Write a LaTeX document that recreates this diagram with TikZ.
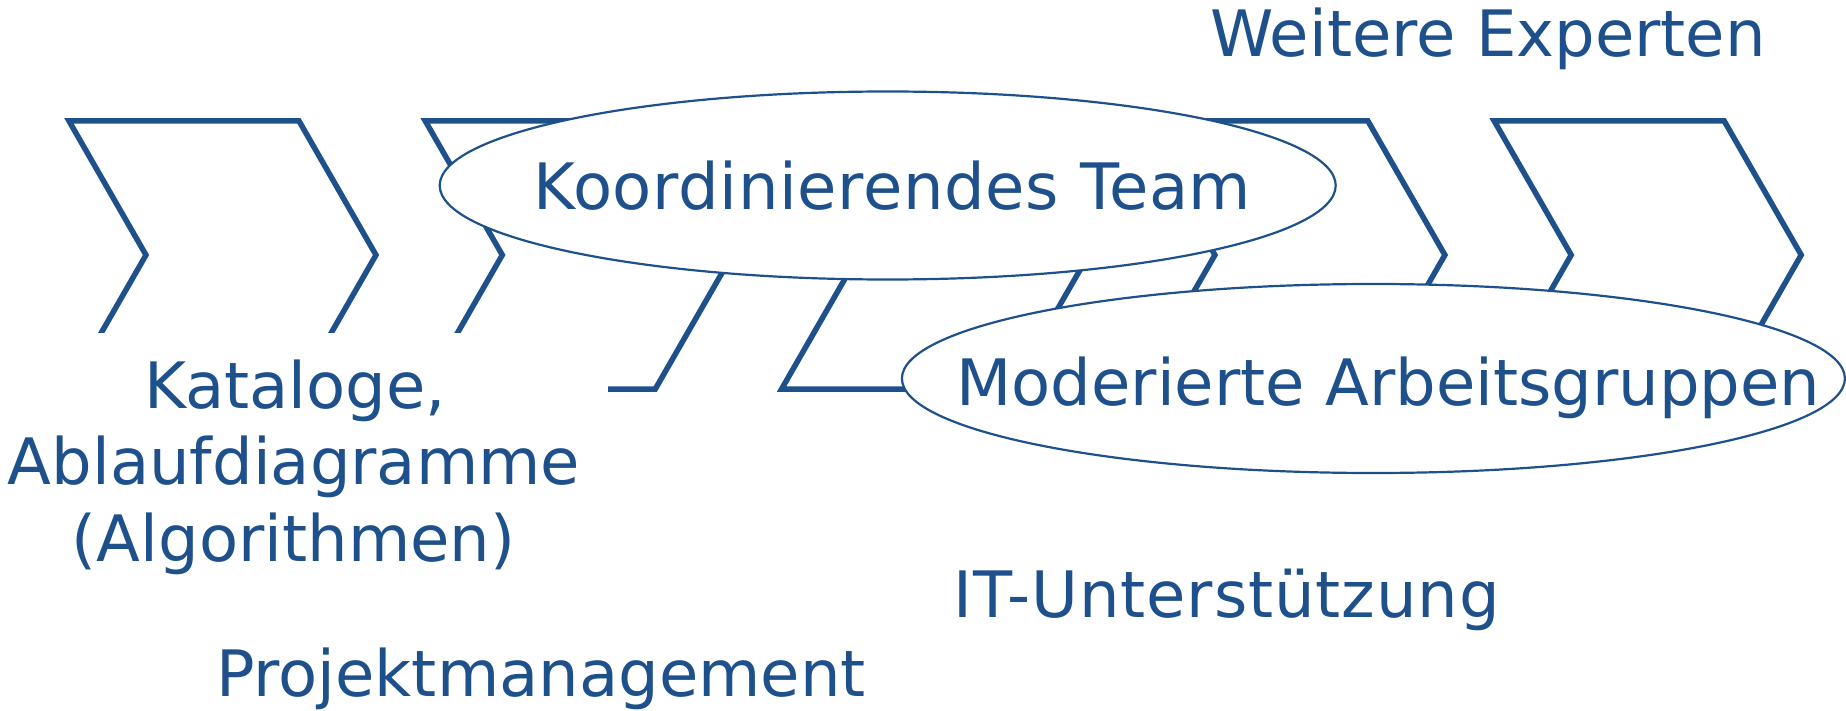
\documentclass[tikz,border=0pt]{standalone}
\usepackage{fontspec}
\setmainfont{DejaVu Sans}
\usetikzlibrary{shapes.geometric}
\definecolor{dblue}{RGB}{30,80,140}
\begin{document}
\begin{tikzpicture}[x=1pt,y=-1pt,
  chev/.style={draw=dblue, line width=5.5pt, line join=miter},
  oval/.style={ellipse, draw=dblue, line width=2.2pt, fill=white, inner sep=0pt},
  lbl/.style={text=dblue, font=\fontsize{64}{77}\selectfont, anchor=base, inner sep=0pt}]
\useasboundingbox[fill=white] (0,0) rectangle (1846,711);
\foreach \x in {69,425.3,781.6,1137.9,1494.2} {
  \draw[chev] (\x,121) -- ++(230,0) -- ++(77,134) -- ++(-77,134) -- ++(-230,0) -- ++(77,-134) -- cycle;
}
\fill[white] (0,333) rectangle (608,711);
\node[oval, minimum width=896pt, minimum height=188pt] (team) at (887.7,185.5) {};
\node[oval, minimum width=943pt, minimum height=189pt] (groups) at (1373.4,378.5) {};
\node[lbl] (experten) at (1488,56.7) {Weitere Experten};
\node[lbl] (teamtext) at (892.5,209.5) {\addfontfeature{LetterSpace=1.0}Koordinierendes Team};
\node[lbl] (groupstext) at (1388.4,405) {Moderierte Arbeitsgruppen};
\node[lbl] (kat1) at (295,408.3) {Kataloge,};
\node[lbl] (kat2) at (294,484.3) {Ablaufdiagramme};
\node[lbl] (kat3) at (293.6,561.7) {(Algorithmen)};
\node[lbl] (it) at (1226.7,617.7) {\addfontfeature{LetterSpace=1.4}IT-Unterstützung};
\node[lbl] (pm) at (541,696.7) {Projektmanagement};
\end{tikzpicture}
\end{document}
